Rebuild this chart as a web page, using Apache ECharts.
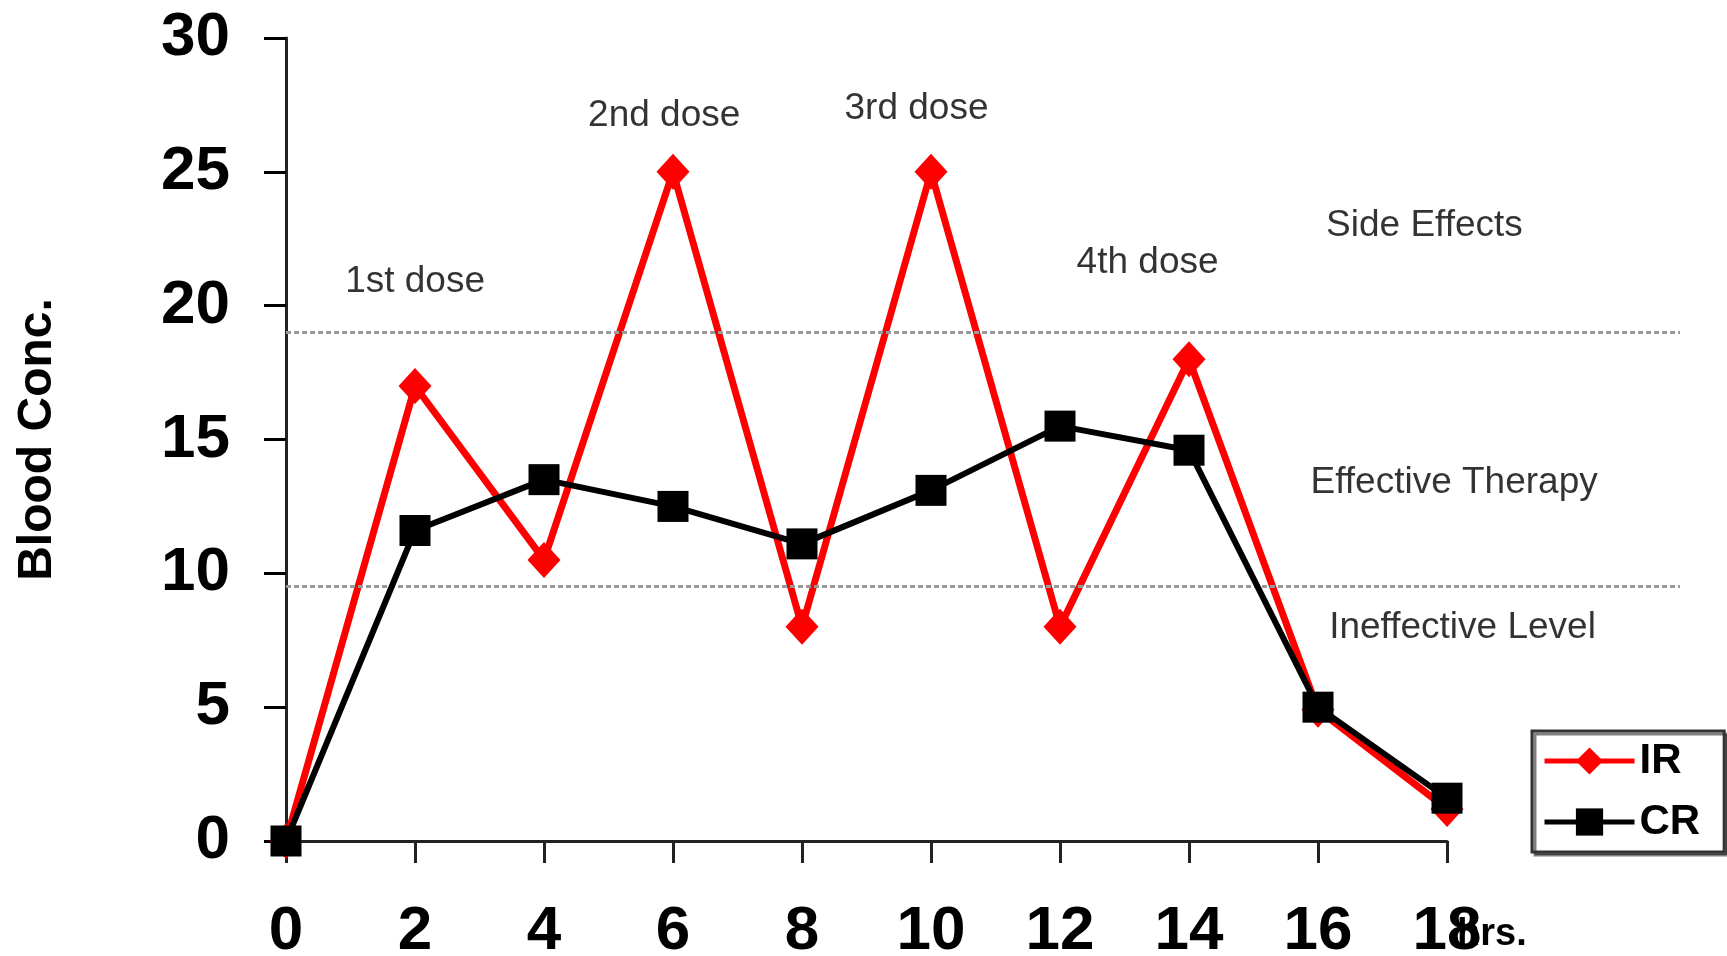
<!DOCTYPE html>
<html>
<head>
<meta charset="utf-8">
<script src="https://cdn.jsdelivr.net/npm/echarts@6/dist/echarts.min.js"></script>
<style>
html,body{margin:0;padding:0;background:#fff;}
#c{width:1727px;height:956px;}
</style>
</head>
<body>
<div id="c"></div>
<script>
var hours = [0, 2, 4, 6, 8, 10, 12, 14, 16, 18];
var irValues = [0, 17, 10.5, 25, 8, 25, 8, 18, 4.9, 1.2];
var crValues = [0, 11.6, 13.5, 12.5, 11.1, 13.1, 15.5, 14.6, 5.0, 1.6];
var levelLines = [19, 9.5];
var annotations = [
  [2.0, 20.9, '1st dose'],
  [5.86, 27.1, '2nd dose'],
  [9.77, 27.35, '3rd dose'],
  [13.35, 21.6, '4th dose'],
  [17.64, 23.0, 'Side Effects'],
  [18.1, 13.4, 'Effective Therapy'],
  [18.23, 7.95, 'Ineffective Level']
];

var FONT = 'Liberation Sans, Arial, sans-serif';
function pairs(xs, ys){ return xs.map(function(x,i){ return [x, ys[i]]; }); }

var chart = echarts.init(document.getElementById('c'), null, {renderer:'canvas'});
chart.setOption({
  backgroundColor: '#fff',
  animation: false,
  grid: [
    {left: 286, right: 280, top: 38, bottom: 115, containLabel: false, outerBoundsMode: 'none'},
    {left: 286, right: 47, top: 38, bottom: 115, containLabel: false, outerBoundsMode: 'none'}
  ],
  xAxis: [
    {
      type: 'value', gridIndex: 0, min: 0, max: 18, interval: 2,
      axisLine: {show: true, onZero: false, lineStyle: {color: '#222', width: 3}},
      axisTick: {show: true, length: 22, lineStyle: {color: '#222', width: 3}},
      axisLabel: {color: '#000', fontFamily: FONT, fontWeight: 'bold', fontSize: 62, margin: 60},
      splitLine: {show: false},
      z: 3
    },
    {
      type: 'value', gridIndex: 1, min: 0, max: 21.6, show: false
    }
  ],
  yAxis: [
    {
      type: 'value', gridIndex: 0, min: 0, max: 30, interval: 5,
      name: 'Blood Conc.', nameLocation: 'middle', nameGap: 224, nameRotate: 90,
      nameTextStyle: {color: '#000', fontFamily: FONT, fontWeight: 'bold', fontSize: 48},
      axisLine: {show: true, lineStyle: {color: '#222', width: 3}},
      axisTick: {show: true, length: 22, lineStyle: {color: '#000', width: 3}},
      axisLabel: {color: '#000', fontFamily: FONT, fontWeight: 'bold', fontSize: 62, margin: 56},
      splitLine: {show: false},
      z: 3
    },
    {
      type: 'value', gridIndex: 1, min: 0, max: 30, show: false
    }
  ],
  legend: {
    orient: 'vertical',
    left: 1532, top: 731,
    padding: [9, 24, 9, 10],
    itemGap: 19,
    itemWidth: 90, itemHeight: 34,
    backgroundColor: '#fff',
    borderColor: '#333', borderWidth: 3,
    shadowColor: 'rgba(0,0,0,0.5)', shadowOffsetX: 3, shadowOffsetY: 3, shadowBlur: 0,
    lineStyle: {width: 5},
    textStyle: {color: '#000', fontFamily: FONT, fontWeight: 'bold', fontSize: 42},
    data: ['IR', 'CR']
  },
  series: [
    {
      type: 'scatter', xAxisIndex: 1, yAxisIndex: 1, z: 1,
      symbolSize: 0, silent: true,
      data: annotations,
      label: {
        show: true, position: 'inside', color: '#000', textBorderWidth: 0,
        fontFamily: FONT, fontSize: 37,
        formatter: function(p){ return p.value[2]; }
      },
      markLine: {
        silent: true, symbol: 'none', label: {show: false},
        lineStyle: {color: '#999', width: 3, type: [5, 3]},
        data: levelLines.map(function(v){ return {yAxis: v}; })
      }
    },
    {
      name: 'IR', type: 'line', xAxisIndex: 0, yAxisIndex: 0, z: 4,
      data: pairs(hours, irValues),
      symbol: 'diamond', symbolSize: [33, 36],
      lineStyle: {color: '#ff0000', width: 7},
      itemStyle: {color: '#ff0000'}
    },
    {
      name: 'CR', type: 'line', xAxisIndex: 0, yAxisIndex: 0, z: 5,
      data: pairs(hours, crValues),
      symbol: 'rect', symbolSize: 31,
      lineStyle: {color: '#000', width: 6},
      itemStyle: {color: '#000'}
    }
  ],
  graphic: [
    {
      type: 'text', left: 1457, top: 916, z: 10,
      style: {text: 'hrs.', fill: '#000', font: 'bold 38px ' + FONT}
    }
  ]
});
</script>
</body>
</html>
